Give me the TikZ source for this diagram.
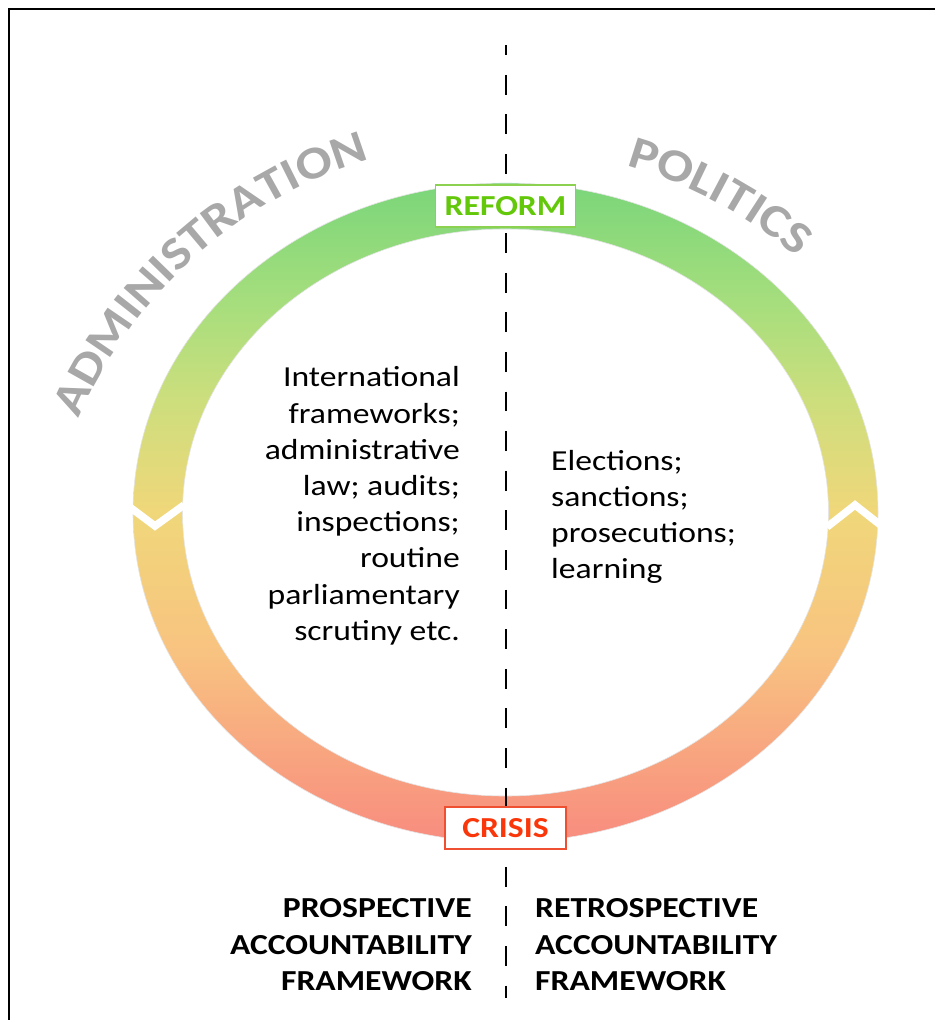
\documentclass[tikz,border=0pt]{standalone}
\usepackage{fontspec}
\setmainfont{Carlito}[FakeStretch=1.16]
\usetikzlibrary{decorations.text}
\definecolor{reformgreen}{RGB}{100,200,10}
\definecolor{reformborder}{RGB}{140,210,80}
\definecolor{crisisred}{RGB}{250,55,10}
\definecolor{crisisborder}{RGB}{240,80,50}
\definecolor{archgray}{RGB}{168,168,168}
\pgfdeclareverticalshading{ringshade}{100bp}{
  rgb(0bp)=(0.973,0.549,0.498);
  rgb(25bp)=(0.973,0.549,0.498);
  rgb(32bp)=(0.973,0.650,0.500);
  rgb(39.5bp)=(0.973,0.765,0.502);
  rgb(50bp)=(0.941,0.843,0.478);
  rgb(58.5bp)=(0.804,0.871,0.490);
  rgb(66bp)=(0.650,0.870,0.490);
  rgb(75bp)=(0.478,0.839,0.478);
  rgb(100bp)=(0.478,0.839,0.478)}
\tikzset{
  bodytext/.style={font=\fontsize{29}{36.2}\selectfont, inner sep=0pt},
  headtext/.style={font=\bfseries\fontsize{29}{36.5}\selectfont, inner sep=0pt},
  tagbox/.style={fill=white, line width=1.5pt, inner sep=0pt, minimum height=42pt,
    font=\bfseries\fontsize{29}{34}\selectfont},
  chevron/.style={draw=white, line width=7.5pt, miter limit=10},
  divider/.style={line width=2pt, dash pattern=on 19.8pt off 19.8pt, dash phase=9.8pt}
}
\begin{document}
\begin{tikzpicture}[x=1pt,y=1pt]
\useasboundingbox (0,0) rectangle (935,-1020);
% frame
\draw[line width=2pt] (9,-1020) -- (9,-9) -- (935,-9);
% ring
\coordinate (c) at (505.5,-512.5);
\shade[even odd rule, shading=ringshade]
  (c) ellipse [x radius=372.5, y radius=329.5]
  (c) ellipse [x radius=323, y radius=283.5];
\draw[gray!20, line width=0.6pt] (c) ellipse [x radius=372.5, y radius=329.5];
\draw[gray!20, line width=0.6pt] (c) ellipse [x radius=323, y radius=283.5];
% chevrons
\coordinate (lc1) at (127,-505);
\coordinate (lc2) at (155,-526);
\coordinate (lc3) at (184,-505);
\draw[chevron] (lc1) -- (lc2) -- (lc3);
\coordinate (rc1) at (827,-527);
\coordinate (rc2) at (855,-505);
\coordinate (rc3) at (883,-527);
\draw[chevron] (rc1) -- (rc2) -- (rc3);
% divider
\coordinate (dtop) at (505.5,-45);
\coordinate (dbot) at (505.5,-998);
\draw[divider] (dtop) -- (dbot);
% arched titles
\coordinate (ac) at (502,-600);
\path[decorate, decoration={text along path, text align=center, text color=archgray,
  text={|\bfseries\fontsize{46}{54}\selectfont|ADMINISTRATION}}]
  (ac) ++(161.8:460) arc[start angle=161.8, end angle=101.8, radius=460];
\path[decorate, decoration={text along path, text align=center, text color=archgray,
  text={|\bfseries\fontsize{46}{54}\selectfont|POLITICS}}]
  (ac) ++(91.7:452) arc[start angle=91.7, end angle=31.7, radius=452];
% tags
\node[tagbox, draw=reformborder, text=reformgreen, minimum width=140pt] (reform) at (505.5,-206) {REFORM};
\node[tagbox, draw=crisisborder, text=crisisred, minimum width=121pt] (crisis) at (505.5,-828) {CRISIS};
% texts
\node[bodytext, align=right, anchor=north east] (admin) at (460,-366.5)
  {International\\frameworks;\\administrative\\law; audits;\\inspections;\\routine\\parliamentary\\scrutiny etc.};
\node[bodytext, align=left, anchor=north west] (pol) at (551,-449.7)
  {Elections;\\sanctions;\\prosecutions;\\learning};
\node[headtext, align=right, anchor=north east] (pros) at (472,-898.5)
  {PROSPECTIVE\\ACCOUNTABILITY\\FRAMEWORK};
\node[headtext, align=left, anchor=north west] (retro) at (535,-898.5)
  {RETROSPECTIVE\\ACCOUNTABILITY\\FRAMEWORK};
\end{tikzpicture}
\end{document}
